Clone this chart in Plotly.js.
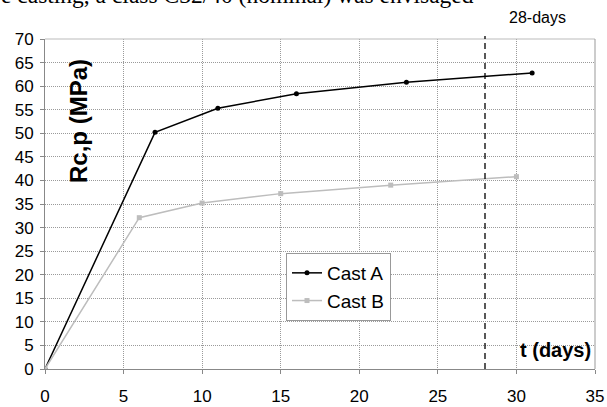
<!DOCTYPE html>
<html><head><meta charset="utf-8">
<script src="https://cdn.plot.ly/plotly-3.0.1.min.js"></script>
<style>html,body{margin:0;padding:0;background:#fff}#chart{width:607px;height:407px}</style>
</head><body><div id="chart"></div>
<script>
const castA_days = [0, 7, 11, 16, 23, 31];
const castA_rc   = [0, 50.2, 55.3, 58.4, 60.8, 62.8];
const castB_days = [0, 6, 10, 15, 22, 30];
const castB_rc   = [0, 32.1, 35.2, 37.2, 39.0, 40.8];
const xTicks = [0, 5, 10, 15, 20, 25, 30, 35];
const yTicks = [0, 5, 10, 15, 20, 25, 30, 35, 40, 45, 50, 55, 60, 65, 70];
const markDay = 28;

const W = 607, H = 407;
const m = {l: 45, r: 12, t: 39, b: 38};
const pw = W - m.l - m.r, ph = H - m.t - m.b;
function py(pix){ return (H - m.b - pix) / ph; }
function px(pix){ return (pix - m.l) / pw; }

const traces = [
  {x: castA_days, y: castA_rc, name: 'Cast A', type: 'scatter', mode: 'lines+markers',
   line: {color: '#000', width: 1.5}, marker: {color: '#000', size: 5, symbol: 'circle'}},
  {x: castB_days, y: castB_rc, name: 'Cast B', type: 'scatter', mode: 'lines+markers',
   line: {color: '#bdbdbd', width: 1.5}, marker: {color: '#bdbdbd', size: 5, symbol: 'square'}}
];

const layout = {
  width: W, height: H, margin: m,
  paper_bgcolor: '#fff', plot_bgcolor: '#fff',
  font: {family: 'Liberation Sans, Arial, sans-serif', size: 17, color: '#000'},
  showlegend: true,
  legend: {x: px(286), y: py(253), xanchor: 'left', yanchor: 'top',
    bgcolor: '#fff', bordercolor: '#999', borderwidth: 1,
    font: {size: 19}, itemwidth: 30, tracegroupgap: 0},
  xaxis: {range: [0, 35], tickvals: xTicks, ticktext: xTicks.map(String),
    showgrid: true, gridcolor: '#9a9a9a', griddash: '1px,1px', gridwidth: 1,
    showline: true, linecolor: '#888', linewidth: 1, mirror: false,
    ticks: 'outside', ticklen: 4, tickcolor: '#888', ticklabelstandoff: 8,
    zeroline: false, fixedrange: true},
  yaxis: {range: [0, 70], tickvals: yTicks, ticktext: yTicks.map(String),
    showgrid: true, gridcolor: '#9a9a9a', griddash: '1px,1px', gridwidth: 1,
    showline: true, linecolor: '#888', linewidth: 1,
    ticks: 'outside', ticklen: 4, tickcolor: '#888', ticklabelstandoff: 3,
    zeroline: false, fixedrange: true},
  shapes: [
    {type: 'line', xref: 'paper', yref: 'paper', x0: 0, x1: 1, y0: 1, y1: 1, line: {color: '#bbb', width: 1}},
    {type: 'line', xref: 'paper', yref: 'paper', x0: 1, x1: 1, y0: 0, y1: 1, line: {color: '#999', width: 1}},
    {type: 'line', xref: 'x', yref: 'paper', x0: markDay, x1: markDay, y0: 0, y1: py(36),
     line: {color: '#000', width: 1.3, dash: '6px,4px'}}
  ],
  annotations: [
    {text: '28-days', xref: 'paper', yref: 'paper', x: px(507), xanchor: 'left',
     y: py(18), yanchor: 'middle', showarrow: false, font: {size: 16}},
    {text: '<b>Rc,p (MPa)</b>', textangle: -90, xref: 'paper', yref: 'paper',
     x: px(78), xanchor: 'center', y: py(57), yanchor: 'top',
     showarrow: false, font: {size: 24}},
    {text: '<b>t (days)</b>', xref: 'paper', yref: 'paper', x: px(593), xanchor: 'right',
     y: py(350), yanchor: 'middle', showarrow: false, font: {size: 20}},
    {text: 'e casting, a class C32/40 (nominal) was envisaged', xref: 'paper', yref: 'paper',
     x: px(-1), xanchor: 'left', y: py(-5), yanchor: 'middle', showarrow: false,
     font: {family: 'Liberation Serif, Times New Roman, serif', size: 23.5}}
  ]
};
Plotly.newPlot('chart', traces, layout, {displayModeBar: false, staticPlot: true});
</script></body></html>
